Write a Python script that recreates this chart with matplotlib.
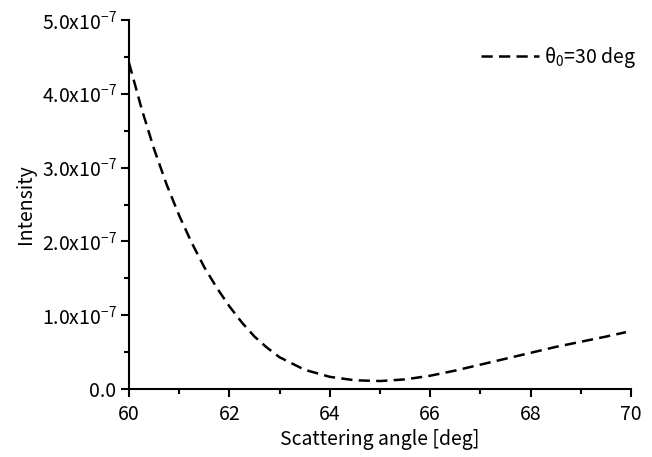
import matplotlib
matplotlib.use("Agg")
import matplotlib.pyplot as plt
from matplotlib.ticker import FuncFormatter, MultipleLocator
import numpy as np

plt.rcParams['font.family'] = ['Noto Sans CJK JP', 'DejaVu Sans']
plt.rcParams['mathtext.fontset'] = 'custom'
plt.rcParams['mathtext.rm'] = 'Noto Sans CJK JP'
plt.rcParams['mathtext.it'] = 'Noto Sans CJK JP'

# scattering angle [deg] and intensity (x1e-7)
angle = [60.0, 60.25, 60.5, 60.75, 61.0, 61.25, 61.5, 61.75, 62.0, 62.25, 62.5,
         62.75, 63.0, 63.5, 64.0, 64.5, 65.0, 65.5, 66.0, 66.5, 67.0, 67.5,
         68.0, 68.5, 69.0, 69.5, 69.9]
intensity = [4.42, 3.80, 3.25, 2.77, 2.35, 1.98, 1.65, 1.37, 1.12, 0.90, 0.71,
             0.56, 0.43, 0.26, 0.165, 0.118, 0.108, 0.13, 0.18, 0.25, 0.33, 0.41,
             0.49, 0.57, 0.64, 0.71, 0.77]
label = r'$\theta_0$=30 deg'

fig = plt.figure(figsize=(6.52, 4.57), dpi=100)
ax = fig.add_axes([129 / 652, 1 - 389 / 457, (631 - 129) / 652, (389 - 20) / 457])

ax.plot(angle, np.array(intensity) * 1e-7, color='black', lw=1.8,
        dashes=(4.5, 2.5), label=label)

ax.set_xlim(60, 70)
ax.set_ylim(0, 5e-7)
ax.xaxis.set_major_locator(MultipleLocator(2))
ax.xaxis.set_minor_locator(MultipleLocator(1))
ax.yaxis.set_major_locator(MultipleLocator(1e-7))
ax.yaxis.set_minor_locator(MultipleLocator(0.5e-7))


def yfmt(v, pos):
    if abs(v) < 1e-12:
        return '0.0'
    return '%.1fx10$^{-7}$' % (v / 1e-7)


ax.yaxis.set_major_formatter(FuncFormatter(yfmt))

for s in ['top', 'right']:
    ax.spines[s].set_visible(False)
for s in ['left', 'bottom']:
    ax.spines[s].set_linewidth(1.5)
    ax.spines[s].set_clip_on(False)

ax.tick_params(which='major', direction='out', length=6, width=1.5, labelsize=14)
ax.tick_params(which='minor', direction='out', length=3.5, width=1.5)
ax.tick_params(axis='x', pad=5)
ax.tick_params(axis='y', pad=3)

ax.set_xlabel('Scattering angle [deg]', fontsize=14, labelpad=3)
ax.set_ylabel('Intensity', fontsize=14, labelpad=4)

ax.legend(loc='upper right', frameon=False, fontsize=14, handlelength=3.0,
          handletextpad=0.25, bbox_to_anchor=(1.045, 0.98))

fig.savefig('out.png', dpi=100)
